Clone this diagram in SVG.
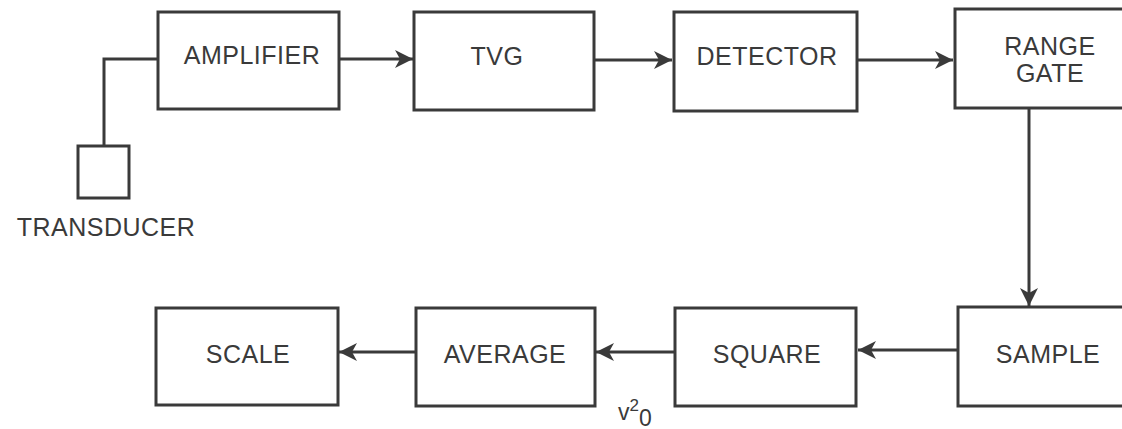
<svg xmlns="http://www.w3.org/2000/svg" width="1122" height="429" viewBox="0 0 1122 429">
<defs>
<style>
.box{fill:#fff;stroke:#3a3a3a;stroke-width:3}
.ln{fill:none;stroke:#3a3a3a;stroke-width:3}
text{font-family:"Liberation Sans",Arial,sans-serif;font-size:25px;letter-spacing:0.5px;fill:#3a3a3a;text-anchor:middle}
</style>
<marker id="a" viewBox="-20 -10 22 20" refX="0" refY="0" markerWidth="22" markerHeight="20" markerUnits="userSpaceOnUse" orient="auto">
<path d="M0,0 L-18,-9 L-13,0 L-18,9 z" fill="#3a3a3a"/>
</marker>
</defs>
<g id="connectors">
<path class="ln" d="M158,59 H104 V146"/>
<path class="ln" d="M339,59 H413" marker-end="url(#a)"/>
<path class="ln" d="M594,60 H672" marker-end="url(#a)"/>
<path class="ln" d="M857,60 H953" marker-end="url(#a)"/>
<path class="ln" d="M1029,108 V306" marker-end="url(#a)"/>
<path class="ln" d="M958,350 H858" marker-end="url(#a)"/>
<path class="ln" d="M675,352 H596" marker-end="url(#a)"/>
<path class="ln" d="M416,352 H339" marker-end="url(#a)"/>
</g>
<g id="transducer">
<rect class="box" x="78" y="146" width="51" height="52"/>
<text x="106" y="236">TRANSDUCER</text>
</g>
<g id="amplifier">
<rect class="box" x="158" y="12" width="181" height="97"/>
<text x="252" y="64">AMPLIFIER</text>
</g>
<g id="tvg">
<rect class="box" x="414" y="12" width="180" height="98"/>
<text x="497" y="65">TVG</text>
</g>
<g id="detector">
<rect class="box" x="674" y="12" width="183" height="99"/>
<text x="767" y="65">DETECTOR</text>
</g>
<g id="range-gate">
<rect class="box" x="955" y="9" width="180" height="99"/>
<text x="1050" y="55">RANGE</text>
<text x="1050" y="82">GATE</text>
</g>
<g id="sample">
<rect class="box" x="958" y="307" width="180" height="99"/>
<text x="1048" y="363">SAMPLE</text>
</g>
<g id="square">
<rect class="box" x="675" y="308" width="181" height="98"/>
<text x="767" y="363">SQUARE</text>
</g>
<g id="average">
<rect class="box" x="416" y="308" width="179" height="98"/>
<text x="505" y="363">AVERAGE</text>
</g>
<g id="scale">
<rect class="box" x="156" y="308" width="182" height="97"/>
<text x="248" y="363">SCALE</text>
</g>
<g id="label-v">
<text x="618" y="420" style="text-anchor:start;font-size:23px;letter-spacing:0">v<tspan dy="-9" style="font-size:17px">2</tspan><tspan dy="15">0</tspan></text>
</g>
</svg>
